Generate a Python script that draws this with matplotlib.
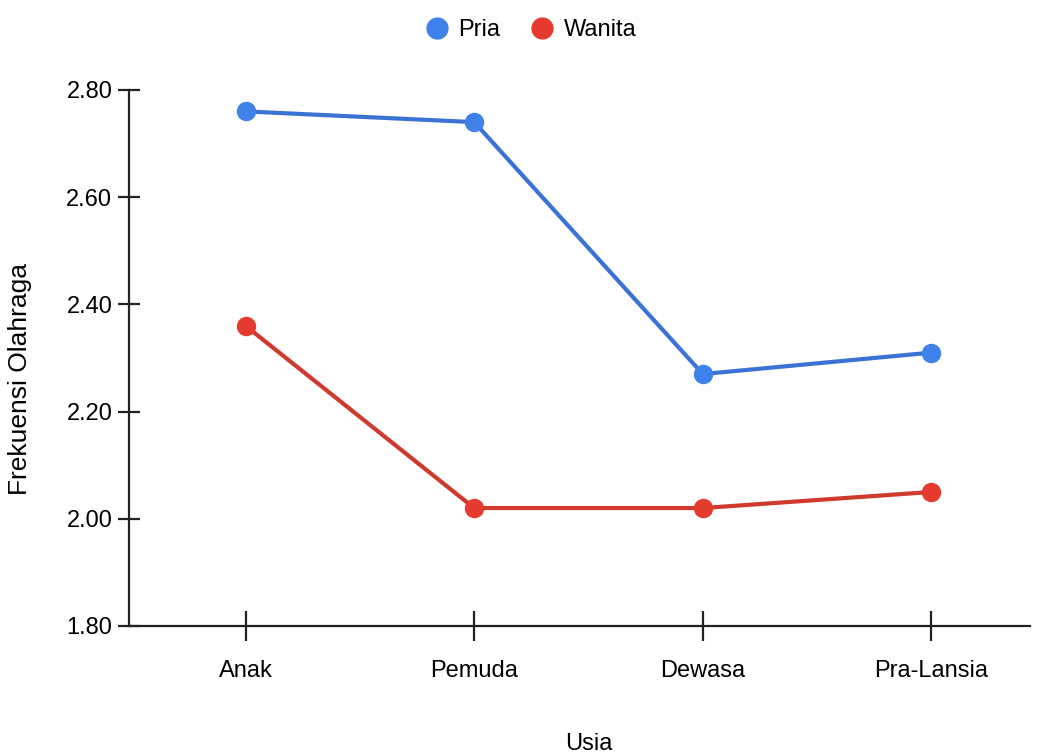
import matplotlib.pyplot as plt
from matplotlib.lines import Line2D

plt.rcParams['font.family'] = ['Liberation Sans', 'DejaVu Sans']

usia = ['Anak', 'Pemuda', 'Dewasa', 'Pra-Lansia']
pria = [2.76, 2.74, 2.27, 2.31]
wanita = [2.36, 2.02, 2.02, 2.05]

blue_line, blue_dot = '#3a72d6', '#3f82ea'
red_line, red_dot = '#d03a2c', '#e53b2f'

fig = plt.figure(figsize=(10.38, 7.56), dpi=100)
ax = fig.add_axes([0.1243, 0.172, 0.8677, 0.709])

x = range(len(usia))
ax.plot(x, pria, color=blue_line, lw=3, marker='o', ms=13,
        mfc=blue_dot, mec=blue_dot, zorder=3)
ax.plot(x, wanita, color=red_line, lw=3, marker='o', ms=13,
        mfc=red_dot, mec=red_dot, zorder=3)

ax.set_xlim(-0.51, 3.43)
ax.set_ylim(1.80, 2.80)
ax.set_yticks([1.80, 2.00, 2.20, 2.40, 2.60, 2.80])
ax.set_yticklabels(['%.2f' % v for v in ax.get_yticks()])
ax.set_xticks(list(x))
ax.set_xticklabels(usia)

for s in ['top', 'right']:
    ax.spines[s].set_visible(False)
for s in ['left', 'bottom']:
    ax.spines[s].set_linewidth(1.6)
    ax.spines[s].set_color('#222222')

ax.tick_params(axis='y', direction='inout', length=16, width=1.6,
               color='#222222', labelsize=17, pad=4)
ax.tick_params(axis='x', direction='inout', length=21, width=1.6,
               color='#222222', labelsize=17, pad=14)

ax.set_ylabel('Frekuensi Olahraga', fontsize=19)
ax.yaxis.set_label_coords(-0.108, 0.46)
ax.set_xlabel('Usia', fontsize=17)
ax.xaxis.set_label_coords(0.51, -0.2)

handles = [Line2D([], [], ls='none', marker='o', ms=15, mfc=blue_dot, mec=blue_dot),
           Line2D([], [], ls='none', marker='o', ms=15, mfc=red_dot, mec=red_dot)]
fig.legend(handles, ['Pria', 'Wanita'], loc='center', bbox_to_anchor=(0.51, 0.96),
           ncol=2, frameon=False, fontsize=17, handletextpad=0.3,
           columnspacing=1.2, handlelength=1.2)

fig.savefig('out.png', dpi=100)
